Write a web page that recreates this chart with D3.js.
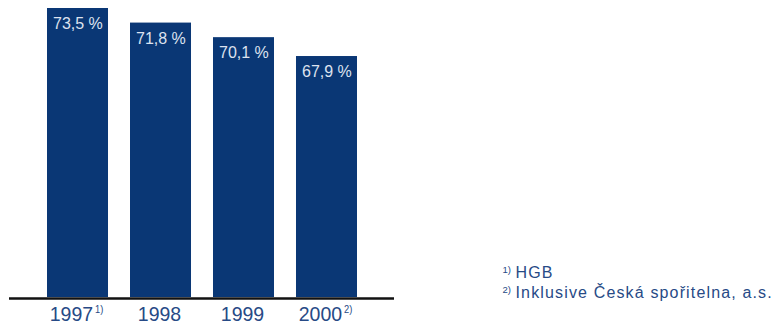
<!DOCTYPE html>
<html>
<head>
<meta charset="utf-8">
<script src="https://cdn.jsdelivr.net/npm/d3@7"></script>
<style>
  html, body { margin: 0; padding: 0; background: #ffffff; }
  svg { display: block; }
  text { font-family: "Liberation Sans", Arial, sans-serif; }
</style>
</head>
<body>
<svg id="chart" width="777" height="326"></svg>
<script>
// Cost-income ratio by year
const years = ["1997", "1998", "1999", "2000"];
const yearNotes = ["1)", "", "", "2)"];
const ratios = [73.5, 71.8, 70.1, 67.9];
const valueLabels = ["73,5 %", "71,8 %", "70,1 %", "67,9 %"];
const footnoteMarks = ["1)", "2)"];
const footnotes = ["HGB", "Inklusive Česká spořitelna, a.s."];

const barColor = "#0a3775";
const labelColor = "#274a86";

const svg = d3.select("#chart");
const baseY = 297;

const x = d3.scaleBand()
  .domain(years)
  .range([47, 357])
  .paddingInner(0.265)
  .paddingOuter(0);

const y = d3.scaleLinear()
  .domain([39.8, 73.5])
  .range([baseY, 8]);

// bars
svg.append("g").selectAll("rect")
  .data(years)
  .join("rect")
  .attr("x", d => x(d))
  .attr("y", (d, i) => y(ratios[i]))
  .attr("width", x.bandwidth())
  .attr("height", (d, i) => baseY - y(ratios[i]))
  .attr("fill", barColor);

// value labels inside bar tops
svg.append("g").selectAll("text")
  .data(years)
  .join("text")
  .attr("x", d => x(d) + 6)
  .attr("y", (d, i) => y(ratios[i]) + 21)
  .attr("fill", "#dde2ef")
  .attr("font-size", 16)
  .text((d, i) => valueLabels[i]);

// baseline
svg.append("line")
  .attr("x1", 9).attr("x2", 394)
  .attr("y1", baseY + 1.5).attr("y2", baseY + 1.5)
  .attr("stroke", "#111")
  .attr("stroke-width", 2.6);

// year axis
const axis = svg.append("g")
  .attr("transform", `translate(0,${baseY})`)
  .call(d3.axisBottom(x).tickSize(0).tickPadding(0));
axis.select(".domain").remove();
axis.selectAll(".tick text").each(function (d) {
  const t = d3.select(this);
  t.text(null)
    .attr("y", 0)
    .attr("dy", null)
    .attr("fill", labelColor)
    .attr("font-size", 21)
    .attr("font-family", "Liberation Sans, Arial, sans-serif")
    .attr("text-anchor", "middle")
    .attr("transform", "translate(-1,24) scale(0.93,1)");
  t.append("tspan").text(d);
  const note = yearNotes[years.indexOf(d)];
  if (note) {
    t.append("tspan")
      .attr("font-size", 10)
      .attr("dx", 2)
      .attr("dy", -8)
      .text(note);
  }
});

// footnotes
const fn = svg.append("g").attr("fill", labelColor);
footnotes.forEach((f, i) => {
  const by = 277.7 + i * 20.6;
  fn.append("text")
    .attr("x", 502.5)
    .attr("y", by - 5)
    .attr("font-size", 9.5)
    .text(footnoteMarks[i]);
  fn.append("text")
    .attr("x", 515.5)
    .attr("y", by)
    .attr("font-size", 16)
    .attr("letter-spacing", 1.15)
    .text(f);
});
</script>
</body>
</html>
